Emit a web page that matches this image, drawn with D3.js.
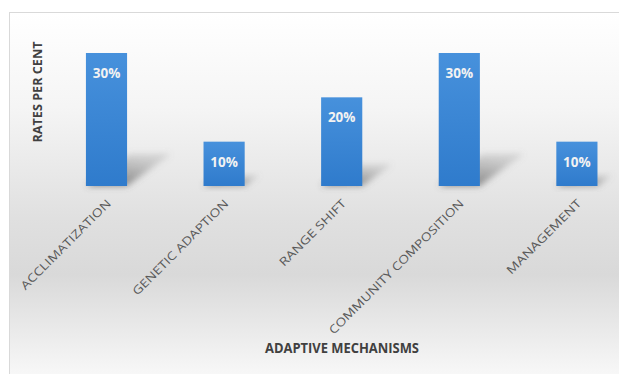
<!DOCTYPE html>
<html><head><meta charset="utf-8">
<script src="https://cdn.jsdelivr.net/npm/d3@7/dist/d3.min.js"></script>
<style>html,body{margin:0;padding:0;background:#fff;}svg{display:block;}</style>
</head><body>
<script>
const categories = ["ACCLIMATIZATION","GENETIC ADAPTION","RANGE SHIFT","COMMUNITY COMPOSITION","MANAGEMENT"];
const values = [30, 10, 20, 30, 10];
const valueLabels = ["30%","10%","20%","30%","10%"];
const labelLengths = [122, 130, 89, 185, 100];
const yTitle = "RATES PER CENT";
const xTitle = "ADAPTIVE MECHANISMS";

const W = 619, H = 374;
const svg = d3.select("body").append("svg").attr("width", W).attr("height", H);
const defs = svg.append("defs");

const bg = defs.append("linearGradient").attr("id","bg").attr("x1",0).attr("y1",0).attr("x2",0).attr("y2",1);
[[0,"#ffffff"],[0.25,"#f5f5f5"],[0.55,"#e0e0e0"],[0.7,"#d9d9d9"],[0.85,"#eaeaea"],[1,"#fbfbfb"]]
  .forEach(([o,c])=>bg.append("stop").attr("offset",o).attr("stop-color",c));

const barG = defs.append("linearGradient").attr("id","barg").attr("x1",0).attr("y1",0).attr("x2",0).attr("y2",1);
[[0,"#4791dc"],[1,"#2f7bcc"]].forEach(([o,c])=>barG.append("stop").attr("offset",o).attr("stop-color",c));

const shG = defs.append("linearGradient").attr("id","shg").attr("x1",0).attr("y1",1).attr("x2",0.4).attr("y2",0);
[[0,"#505050",0.75],[1,"#808080",0.25]].forEach(([o,c,a])=>shG.append("stop").attr("offset",o).attr("stop-color",c).attr("stop-opacity",a));

const blur = defs.append("filter").attr("id","blur").attr("x","-50%").attr("y","-50%").attr("width","200%").attr("height","200%");
blur.append("feGaussianBlur").attr("stdDeviation",3);

// chart area background + border
svg.append("rect").attr("x",9.5).attr("y",12.5).attr("width",W).attr("height",H)
  .attr("fill","url(#bg)").attr("stroke","#d9d9d9").attr("stroke-width",1);

const x = d3.scaleBand().domain(categories).range([47.7, 635.7]).paddingInner(0.65).paddingOuter(0.325);
const y = d3.scaleLinear().domain([0, 30]).range([186, 53]);
const base = y(0);

// shadows
svg.append("g").selectAll("polygon").data(categories).join("polygon")
  .attr("points",(d,i)=>{
    const bx = x(d), bw = x.bandwidth(), h = base - y(values[i]);
    const dx = 0.33*h, dy = 0.24*h;
    return [[bx,base],[bx+bw,base],[bx+bw+dx,base-dy],[bx+dx,base-dy]].map(p=>p.join(",")).join(" ");
  })
  .attr("fill","url(#shg)").attr("filter","url(#blur)");

// bars
svg.append("g").selectAll("rect").data(categories).join("rect")
  .attr("x",d=>x(d)).attr("width",x.bandwidth())
  .attr("y",(d,i)=>y(values[i])).attr("height",(d,i)=>base - y(values[i]))
  .attr("fill","url(#barg)");

// value labels
svg.append("g").selectAll("text").data(categories).join("text")
  .attr("x",d=>x(d)+x.bandwidth()/2).attr("y",(d,i)=>y(values[i])+20)
  .attr("dominant-baseline","central").attr("text-anchor","middle")
  .attr("font-family","'Open Sans', sans-serif").attr("font-weight","bold").attr("font-size",13.5)
  .attr("fill","#f2f2f2").text((d,i)=>valueLabels[i]);

// category labels
svg.append("g").selectAll("text").data(categories).join("text")
  .attr("transform",d=>`translate(${x(d)+x.bandwidth()/2+2},${base+15}) rotate(-45)`)
  .attr("text-anchor","end").attr("dominant-baseline","central")
  .attr("font-family","'Open Sans', sans-serif").attr("font-size",11.5)
  .attr("fill","#595959")
  .attr("textLength",(d,i)=>labelLengths[i]).attr("lengthAdjust","spacingAndGlyphs")
  .text(d=>d);

// axis titles
svg.append("text").attr("transform","translate(37,92) rotate(-90)")
  .attr("text-anchor","middle").attr("dominant-baseline","central")
  .attr("font-family","'Open Sans', sans-serif").attr("font-weight","bold").attr("font-size",12.5)
  .attr("fill","#404040").attr("textLength",101).attr("lengthAdjust","spacingAndGlyphs")
  .text(yTitle);

svg.append("text").attr("x",342).attr("y",348)
  .attr("text-anchor","middle").attr("dominant-baseline","central")
  .attr("font-family","'Open Sans', sans-serif").attr("font-weight","bold").attr("font-size",13.5)
  .attr("fill","#404040").attr("textLength",154).attr("lengthAdjust","spacingAndGlyphs")
  .text(xTitle);
</script>
</body></html>
